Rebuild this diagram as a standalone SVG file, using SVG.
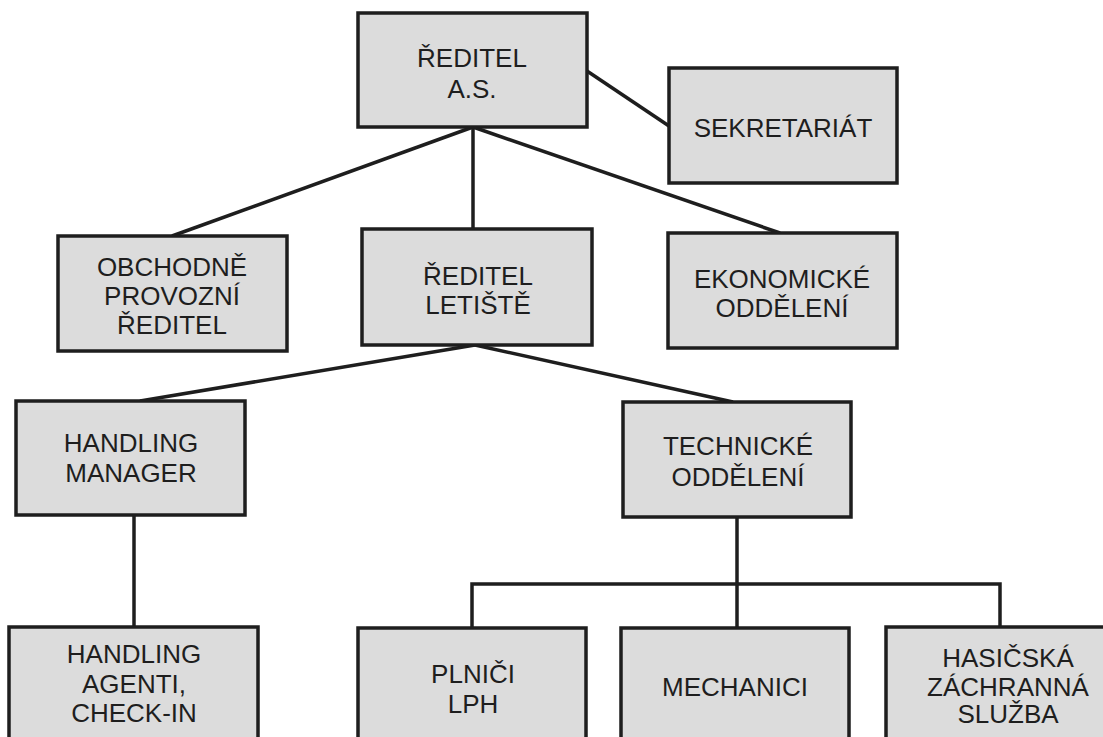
<svg xmlns="http://www.w3.org/2000/svg" width="1103" height="737" viewBox="0 0 1103 737">
<style>
.box{fill:#dcdcdc;stroke:#1e1e1e;stroke-width:3.5}
.t{font-family:"Liberation Sans",Arial,sans-serif;font-size:26px;fill:#1e1e1e;text-anchor:middle}
.c{fill:none;stroke:#1e1e1e;stroke-width:3.5}
</style>
<rect width="1103" height="737" fill="#ffffff"/>
<g id="connectors">
<line class="c" x1="587" y1="71" x2="669" y2="126"/>
<line class="c" x1="473" y1="127" x2="172" y2="236"/>
<line class="c" x1="473" y1="127" x2="473" y2="229"/>
<line class="c" x1="473" y1="127" x2="780" y2="233"/>
<line class="c" x1="475" y1="345" x2="140" y2="401"/>
<line class="c" x1="475" y1="345" x2="733" y2="402"/>
<line class="c" x1="134" y1="515" x2="134" y2="627"/>
<line class="c" x1="737" y1="517" x2="737" y2="628"/>
<polyline class="c" points="472,628 472,584 1000,584 1000,627"/>
</g>
<g id="reditel-as">
<rect class="box" x="358" y="13" width="229" height="114"/>
<text class="t" x="472" y="67">ŘEDITEL</text>
<text class="t" x="472" y="98">A.S.</text>
</g>
<g id="sekretariat">
<rect class="box" x="669" y="68" width="228" height="115"/>
<text class="t" x="783" y="137">SEKRETARIÁT</text>
</g>
<g id="obchodne-provozni">
<rect class="box" x="58" y="236" width="229" height="115"/>
<text class="t" x="172" y="276">OBCHODNĚ</text>
<text class="t" x="172" y="305">PROVOZNÍ</text>
<text class="t" x="172" y="334">ŘEDITEL</text>
</g>
<g id="reditel-letiste">
<rect class="box" x="362" y="229" width="230" height="116"/>
<text class="t" x="478" y="285">ŘEDITEL</text>
<text class="t" x="478" y="314">LETIŠTĚ</text>
</g>
<g id="ekonomicke">
<rect class="box" x="668" y="233" width="229" height="115"/>
<text class="t" x="782" y="288">EKONOMICKÉ</text>
<text class="t" x="782" y="317">ODDĚLENÍ</text>
</g>
<g id="handling-manager">
<rect class="box" x="16" y="401" width="229" height="114"/>
<text class="t" x="131" y="452">HANDLING</text>
<text class="t" x="131" y="482">MANAGER</text>
</g>
<g id="technicke">
<rect class="box" x="623" y="402" width="228" height="115"/>
<text class="t" x="738" y="455">TECHNICKÉ</text>
<text class="t" x="738" y="486">ODDĚLENÍ</text>
</g>
<g id="handling-agenti">
<rect class="box" x="9" y="627" width="249" height="130"/>
<text class="t" x="134" y="663">HANDLING</text>
<text class="t" x="134" y="693">AGENTI,</text>
<text class="t" x="134" y="722">CHECK-IN</text>
</g>
<g id="plnici">
<rect class="box" x="358" y="628" width="228" height="130"/>
<text class="t" x="473" y="683">PLNIČI</text>
<text class="t" x="473" y="713">LPH</text>
</g>
<g id="mechanici">
<rect class="box" x="621" y="628" width="228" height="130"/>
<text class="t" x="735" y="696">MECHANICI</text>
</g>
<g id="hasicska">
<rect class="box" x="886" y="627" width="244" height="130"/>
<text class="t" x="1008" y="667">HASIČSKÁ</text>
<text class="t" x="1008" y="696">ZÁCHRANNÁ</text>
<text class="t" x="1008" y="723">SLUŽBA</text>
</g>
</svg>
